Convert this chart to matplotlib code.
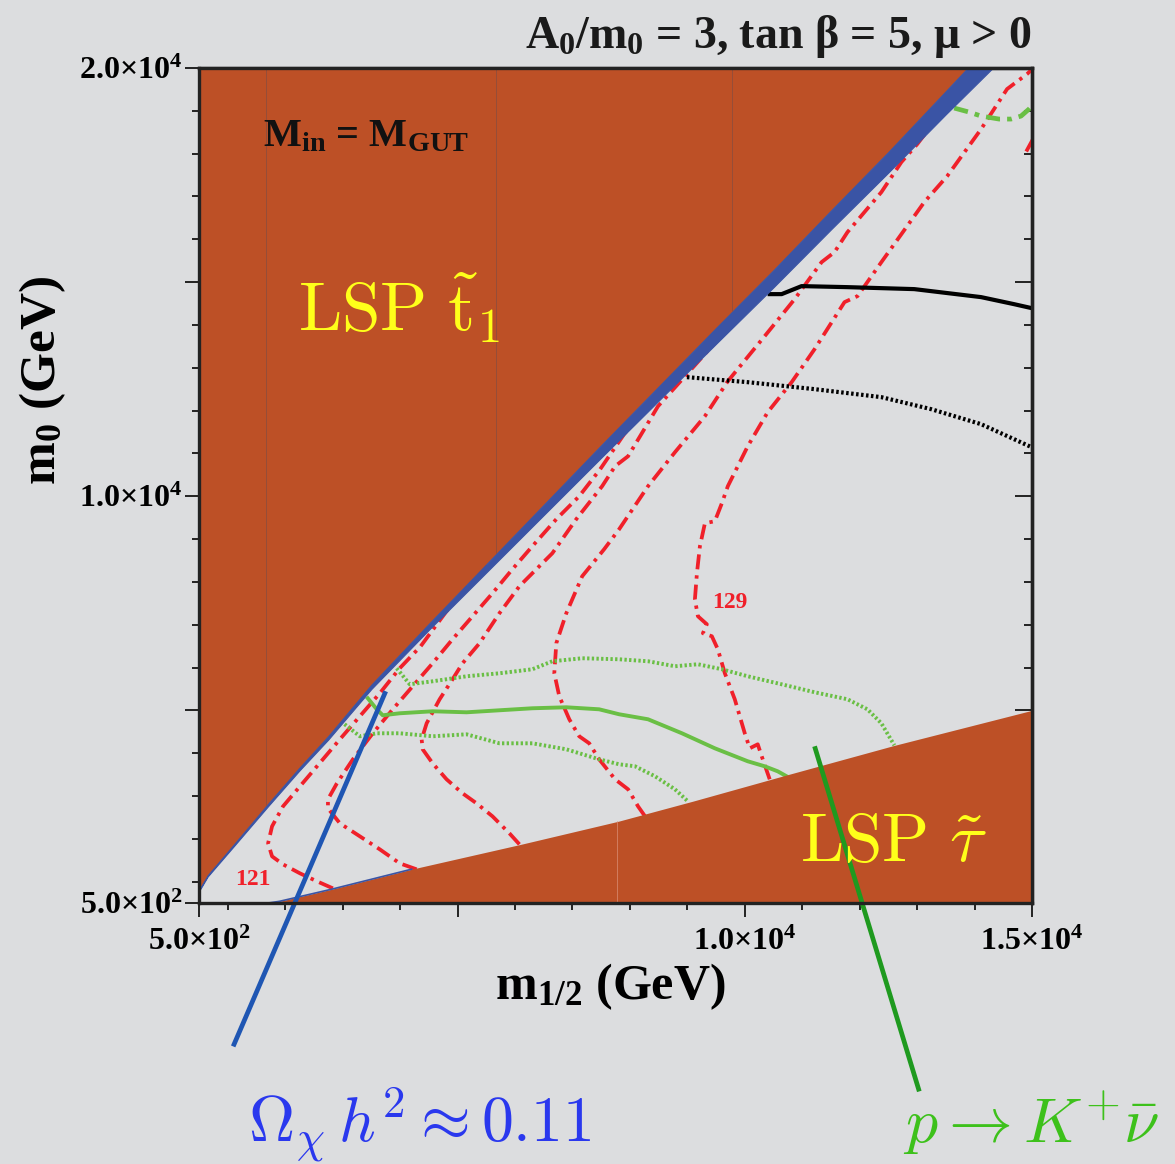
import matplotlib
matplotlib.use("Agg")
import matplotlib.pyplot as plt

plt.rcParams['font.family'] = 'Liberation Serif'
plt.rcParams['font.weight'] = 'bold'
plt.rcParams['mathtext.fontset'] = 'custom'
plt.rcParams['mathtext.rm'] = 'Liberation Serif:bold'
plt.rcParams['mathtext.bf'] = 'Liberation Serif:bold'
plt.rcParams['mathtext.it'] = 'Liberation Serif:bold:italic'

BG = '#dcdddf'
ORANGE = '#bd5026'
BAND = '#3a54a5'
RED = '#f0202a'
GREEN = '#6abf45'

# ---- excluded regions (m_1/2, m_0 in GeV) ----
stop_x = [500, 650, 1100, 1700, 2250, 2750, 3500, 4500, 5500, 6500, 7500,
          8500, 9500, 10500, 11500, 12500, 13500, 14300, 15000]
stop_lo = [780, 1120, 1820, 2760, 3600, 4320, 5500, 6880, 8220, 9560, 10900,
           12230, 13560, 14880, 16230, 17560, 18920, 19980, 20900]
band_w = [25, 30, 40, 55, 65, 80, 100, 140, 190, 240, 290,
          330, 370, 400, 440, 480, 540, 620, 680]

stau_x = [1700, 1900, 2800, 4200, 6100, 7800, 9100, 10700, 12600, 15000]
stau_y = [500, 540, 820, 1290, 1870, 2410, 2880, 3480, 4180, 5000]

# ---- Higgs mass contours (dash-dot red) ----
h1_x = [2830, 2553, 2257, 1962, 1771, 1702, 1771, 1962, 2257, 2553, 2952,
        3299, 3646, 3993, 4358, 4800, 5500]
h1_y = [843, 1007, 1193, 1403, 1590, 1894, 2291, 2758, 3226, 3693, 4324,
        4861, 5398, 5982, 6496, 7300, 8400]

h2_x = [4288, 3993, 3646, 3299, 2952, 2744, 2744, 2900, 3178, 3525, 3872,
        4219, 4566, 4913, 5261, 5608, 5955, 6302, 6719, 7118, 7483, 7900, 8500]
h2_y = [1287, 1427, 1754, 2058, 2361, 2712, 2922, 3296, 3856, 4464, 5024,
        5562, 6099, 6660, 7197, 7734, 8295, 8832, 9463, 10000, 10631, 11450, 12400]

h3_x = [6077, 5903, 5608, 5330, 5087, 4809, 4566, 4393, 4375, 4462, 4688,
        4913, 5087, 5382, 5729, 6077, 6424, 6650, 7066, 7517, 7743, 7969,
        8490, 8993, 9427, 10000]
h3_y = [1871, 2128, 2525, 2829, 3062, 3389, 3763, 4090, 4324, 4697, 5258,
        5725, 6099, 6566, 7267, 7898, 8365, 8668, 9463, 10234, 10701, 10934,
        12102, 12850, 13504, 14400]

h4_x = [8264, 8142, 7969, 7743, 7465, 7292, 7118, 6945, 6771, 6684, 6719,
        6893, 7170, 7552, 7813, 8316, 8785, 9306, 9705, 10347, 10868, 11337,
        11562, 11788, 12378, 12726, 13003, 13500]
h4_y = [2525, 2758, 3155, 3389, 3856, 4230, 4394, 4791, 5328, 5865, 6566,
        7267, 8131, 8762, 9229, 10234, 11028, 11869, 12686, 13738, 14602, 15466,
        15700, 16167, 17101, 17802, 18223, 19100]

h5_x = [10434, 10295, 10226, 10087, 10000, 9826, 9653, 9531, 9427, 9271, 9340,
        9184, 9132, 9167, 9219, 9306, 9479, 9601, 9705, 10052, 10399, 10816,
        11215, 11736, 11962, 12378, 13125, 13524, 14114, 14566, 14913, 15121]
h5_y = [3389, 3926, 4207, 4113, 4464, 5258, 5865, 6426, 6730, 6800, 7010,
        7197, 7594, 8201, 8832, 9369, 9416, 9836, 10234, 11168, 11962, 12663,
        13434, 14532, 14672, 15466, 16868, 17475, 18573, 19508, 19858, 20115]

h6_x = [14900, 15050]
h6_y = [18050, 18420]

# ---- proton lifetime contours (green) ----
pk_x = [3438, 3594, 3698, 3993, 4566, 5157, 5729, 6302, 6893, 7465, 7813,
        8316, 8906, 9479, 10052, 10347, 10573, 10729]
pk_y = [5281, 5024, 4884, 4931, 4978, 4954, 5001, 5048, 5071, 5024, 4908,
        4791, 4464, 4113, 3810, 3693, 3576, 3459]

pk_up_x = [3941, 4167, 4566, 5157, 5729, 6302, 6650, 7170, 7813, 8316, 8785,
           9184, 9601, 10052, 10642, 11215, 11788, 12135, 12378, 12604]
pk_up_y = [5982, 5608, 5678, 5795, 5865, 5959, 6146, 6216, 6192, 6146, 6029,
           6076, 5959, 5795, 5608, 5422, 5258, 5024, 4697, 4183]

pk_lo_x = [2969, 3299, 3594, 3993, 4566, 5157, 5729, 6302, 6893, 7465, 7813,
           8090, 8438, 8785, 9010]
pk_lo_y = [4744, 4394, 4464, 4464, 4394, 4440, 4230, 4230, 4090, 3856, 3740,
           3693, 3459, 3155, 2875]

pk_top_x = [13646, 13906, 14114, 14427, 14635, 14809, 14948, 15000]
pk_top_y = [19064, 18970, 18877, 18807, 18807, 18877, 19040, 19120]

# ---- black contours ----
bk_x = [10434, 10642, 10989, 11788, 12951, 14114, 14687, 15000]
bk_y = [14719, 14719, 14906, 14882, 14836, 14649, 14485, 14390]

bkd_x = [8993, 10052, 11215, 12378, 13246, 14114, 14687, 15000]
bkd_y = [12780, 12663, 12500, 12313, 12032, 11682, 11332, 11140]

# ---- annotation pointers ----
omega_ptr_x = [3750, 1094]
omega_ptr_y = [5445, -2848]
pdecay_ptr_x = [11215, 13038]
pdecay_ptr_y = [4160, -3899]

seam_top_x = [1667, 5677, 9774]
seam_bot_x = [7778]

x_major = [500, 5000, 10000, 15000]
x_major_labels = ['5.0×10$^2$', '', '1.0×10$^4$', '1.5×10$^4$']
y_major = [500, 5000, 10000, 15000, 20000]
y_major_labels = ['5.0×10$^2$', '', '1.0×10$^4$', '', '2.0×10$^4$']
minor_ticks = list(range(1000, 20001, 1000))

fig = plt.figure(figsize=(11.75, 11.64), dpi=100, facecolor=BG)
ax = fig.add_axes([0.1694, 0.2242, 0.7089, 0.7174], facecolor=BG)

hi = [a + b for a, b in zip(stop_lo, band_w)]
stop_fill = ax.fill_between(stop_x, hi, 21000, color=ORANGE, lw=0, zorder=3)
ax.fill_between(stop_x, stop_lo, hi, color=BAND, lw=0.8, edgecolor=BAND, zorder=3)
stau_fill = ax.fill_between(stau_x, 0, stau_y, color=ORANGE, lw=0, zorder=3)
ax.plot(stau_x[:4], stau_y[:4], color=BAND, lw=1.2, zorder=3.5)

# faint seams inside the shaded regions
for sx in seam_top_x:
    ln, = ax.plot([sx, sx], [0, 21000], color='#8f4d3c', lw=0.6, zorder=3.2)
    ln.set_clip_path(stop_fill.get_paths()[0], ax.transData)
for sx in seam_bot_x:
    ln, = ax.plot([sx, sx], [0, 21000], color='#d58468', lw=0.6, zorder=3.2)
    ln.set_clip_path(stau_fill.get_paths()[0], ax.transData)

dashdot = (0, (4.0, 1.6, 0.9, 1.6))
for cx, cy in [(h1_x, h1_y), (h2_x, h2_y), (h3_x, h3_y), (h4_x, h4_y),
               (h5_x, h5_y), (h6_x, h6_y)]:
    ax.plot(cx, cy, color=RED, lw=2.7, linestyle=dashdot, zorder=2)

dots = (0, (0.6, 0.6))
ax.plot(pk_x, pk_y, color=GREEN, lw=2.8, zorder=2)
ax.plot(pk_up_x, pk_up_y, color=GREEN, lw=2.8, linestyle=dots, zorder=2)
ax.plot(pk_lo_x, pk_lo_y, color=GREEN, lw=2.8, linestyle=dots, zorder=2)
ax.plot(pk_top_x, pk_top_y, color=GREEN, lw=3.4, linestyle=(0, (3, 1.5, 1, 1.5)), zorder=2)

ax.plot(bk_x, bk_y, color='black', lw=3.0, zorder=2)
ax.plot(bkd_x, bkd_y, color='black', lw=3.0, linestyle=dots, zorder=2)

ax.plot(omega_ptr_x, omega_ptr_y, color='#1f56b3', lw=3.4, zorder=6, clip_on=False,
        solid_capstyle='butt')
ax.plot(pdecay_ptr_x, pdecay_ptr_y, color='#1f9a1f', lw=3.4, zorder=6, clip_on=False,
        solid_capstyle='butt')

ax.set_xlim(500, 15000)
ax.set_ylim(500, 20000)

ax.set_xticks(x_major)
ax.set_xticklabels(x_major_labels)
ax.set_yticks(y_major)
ax.set_yticklabels(y_major_labels)
ax.xaxis.set_minor_locator(plt.FixedLocator(minor_ticks))
ax.yaxis.set_minor_locator(plt.FixedLocator(minor_ticks))
ax.tick_params(which='both', direction='out', width=1.4, color='#222222',
               labelsize=23)
ax.tick_params(which='major', length=10)
ax.tick_params(which='minor', length=5)
ax.tick_params(axis='x', pad=8)
ax.tick_params(axis='y', pad=2)

secx = ax.secondary_xaxis('top')
secx.set_xticks([5000, 10000])
secx.xaxis.set_minor_locator(plt.FixedLocator(minor_ticks))
secx.tick_params(which='both', direction='in', width=1.4, color='#222222',
                 labeltop=False)
secx.tick_params(which='major', length=10)
secx.tick_params(which='minor', length=6)
secx.spines['top'].set_linewidth(2.4)
secx.spines['top'].set_color('#222222')

secy = ax.secondary_yaxis('right')
secy.set_yticks([5000, 10000, 15000])
secy.yaxis.set_minor_locator(plt.FixedLocator(minor_ticks))
secy.tick_params(which='both', direction='in', width=1.4, color='#222222',
                 labelright=False)
secy.tick_params(which='major', length=12)
secy.tick_params(which='minor', length=6)
secy.spines['right'].set_linewidth(2.4)
secy.spines['right'].set_color('#222222')

for s in ax.spines.values():
    s.set_linewidth(2.4)
    s.set_color('#222222')
    s.set_zorder(7)

# texts inside the plot
ax.text(1615, 18176, 'M$_\\mathrm{in}$ = M$_\\mathrm{GUT}$', fontsize=29,
        color='#111111', zorder=8)
ax.text(2222, 13855, r'$\mathrm{LSP}\ \tilde{\mathrm{t}}_1$', fontsize=50,
        color='#ffff1a', math_fontfamily='cm', zorder=8)
ax.text(10955, 1474, r'$\mathrm{LSP}\ \tilde{\tau}$', fontsize=50,
        color='#ffff1a', math_fontfamily='cm', zorder=8)
ax.text(1442, 1053, '121', fontsize=17, color=RED, ha='center', va='center', zorder=8)
ax.text(9740, 7524, '129', fontsize=17, color=RED, ha='center', va='center', zorder=8)

# title and axis labels
fig.text(0.8783, 0.9588, 'A$_0$/m$_0$ = 3, tan β = 5, μ > 0', fontsize=33,
         ha='right', va='baseline', color='#1a1a1a')
fig.text(0.519, 0.142, 'm$_{1/2}$ (GeV)', fontsize=36, ha='center', va='baseline')
fig.text(0.036, 0.673, 'm$_0$ (GeV)', fontsize=37, rotation=90, ha='center',
         va='center')

fig.text(0.211, 0.018, r'$\Omega_\chi\, h^2 \approx 0.11$', fontsize=46,
         color='#2a38ee', math_fontfamily='cm', fontweight='normal')
fig.text(0.7685, 0.018, r'$p \rightarrow K^{+}\bar{\nu}$', fontsize=46,
         color='#3dc11b', math_fontfamily='cm', fontweight='normal')

fig.savefig('out.png', dpi=100, facecolor=BG)
